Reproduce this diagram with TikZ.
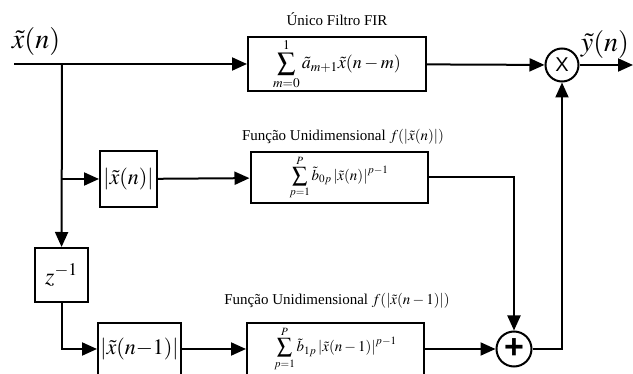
\documentclass[tikz,border=0pt]{standalone}
\usepackage{mathptmx}
\usepackage{fontspec}
\setmainfont{Liberation Serif}
\newfontfamily\opfont{Liberation Sans}
\usetikzlibrary{positioning, arrows.meta}

\begin{document}
\begin{tikzpicture}[
	x=1pt, y=-1pt,
	block/.style={rectangle, draw, line width=2pt, inner sep=0pt, font=\fontsize{15}{18}\selectfont},
	absblock/.style={block, font=\fontsize{22}{26}\selectfont},
	op/.style={circle, draw, line width=2pt, inner sep=0pt, minimum size=33pt},
	caption/.style={font=\fontsize{15}{17}\selectfont},
	signal/.style={font=\fontsize{28}{32}\selectfont},
	arrow/.style={-{Triangle[length=15pt,width=13pt]}, line width=2pt},
	wire/.style={line width=2pt}
	]
	\useasboundingbox (0,0) rectangle (633,374);
	
	% Blocks
	\node[block, minimum width=178pt, minimum height=54pt, font=\fontsize{18}{20}\selectfont] (fir) at (337,64)
		{$\displaystyle\sum_{m=0}^{1}\tilde a_{m+1}\tilde x(n-m)$};
	\node[op] (mult) at (562,65) {\opfont\fontsize{20}{20}\selectfont X};
	\node[absblock, minimum width=57pt, minimum height=56pt] (absn) at (128.5,179)
		{$\left|\tilde x(n)\right|$};
	\node[block, minimum width=177pt, minimum height=51pt] (fn) at (339,177.5)
		{$\displaystyle\sum_{p=1}^{P}\tilde b_{0p}\left|\tilde x(n)\right|^{p-1}$};
	\node[absblock, minimum width=53pt, minimum height=54pt, font=\fontsize{24}{28}\selectfont] (delay) at (61.5,275)
		{$z^{-1}$};
	\node[absblock, minimum width=83pt, minimum height=52pt] (absn1) at (139.5,349)
		{$\left|\tilde x(n{-}1)\right|$};
	\node[block, minimum width=177pt, minimum height=52pt] (fn1) at (335.5,349)
		{$\displaystyle\sum_{p=1}^{P}\tilde b_{1p}\left|\tilde x(n-1)\right|^{p-1}$};
	\node[op, minimum size=35pt] (sum) at (514,349) {\opfont\fontsize{34}{34}\selectfont\bfseries +};
	
	% Labels
	\node[caption] (firlabel) at (337,19) {Único Filtro FIR};
	\node[caption] (fnlabel) at (343,137) {Função Unidimensional $f(|\tilde x(n)|)$};
	\node[caption] (fn1label) at (337,301) {Função Unidimensional $f(|\tilde x(n-1)|)$};
	\node[signal] (xlabel) at (36,42) {$\tilde x(n)$};
	\node[signal] (ylabel) at (605,45) {$\tilde y(n)$};
	
	% Signal points
	\coordinate (in) at (14,64);
	\coordinate (split) at (62,64);
	\coordinate (tap) at (62,179);
	\coordinate (out) at (633,65);
	
	% Arrows
	\draw[arrow] (in) -- (fir);
	\draw[arrow] (fir) -- (mult);
	\draw[arrow] (mult) -- (out);
	\draw[arrow] (split) -- (delay);
	\draw[arrow] (tap) -- (absn);
	\draw[arrow] (absn) -- (fn);
	\draw[arrow] (delay) |- (absn1);
	\draw[arrow] (absn1) -- (fn1);
	\draw[arrow] (fn1) -- (sum);
	\draw[arrow] (fn) -| (sum);
	\draw[arrow] (sum) -| (mult);
	
\end{tikzpicture}
\end{document}
